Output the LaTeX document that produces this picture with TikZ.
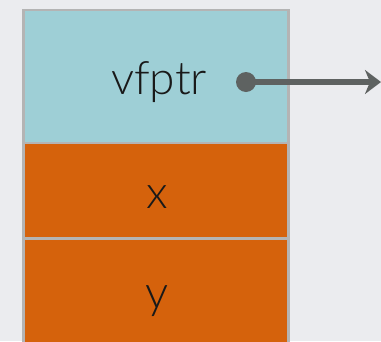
\documentclass[tikz,border=0pt]{standalone}
\usepackage{fontspec}
\setmainfont{Lato}[UprightFont=* Light]
\usetikzlibrary{arrows.meta}
\definecolor{bg}{HTML}{EBECEF}
\definecolor{cyancell}{HTML}{9ECFD6}
\definecolor{orangecell}{HTML}{D5620C}
\definecolor{edge}{HTML}{B4B4B4}
\definecolor{arrowc}{HTML}{5E6261}
\tikzset{
  cell/.style={draw=edge, line width=2.5pt},
  lbl/.style={anchor=base, inner sep=0pt, font=\fontsize{46}{50}\selectfont, text=black!90},
}
\begin{document}
\begin{tikzpicture}[x=1pt,y=-1pt]
\useasboundingbox (0,0) rectangle (381,341);
\clip (0,0) rectangle (381,341);
\fill[bg] (0,0) rectangle (381,341);
\fill[cyancell] (23.5,10) rectangle (288.5,143);
\fill[orangecell] (23.5,143) rectangle (288.5,350);
\draw[cell] (23.5,10) rectangle (288.5,350);
\draw[cell] (23.5,143) -- (288.5,143);
\draw[cell] (23.5,238.5) -- (288.5,238.5);
\node[lbl] (vf) at (159,94) {vfptr};
\node[lbl] (xv) at (157,208) {x};
\node[lbl] (yv) at (157,308) {y};
\coordinate (dot) at (246,82);
\coordinate (tip) at (381,82);
\fill[arrowc] (dot) circle (10);
\draw[arrowc, line width=5.5pt, -{Stealth[length=16pt,width=24pt,inset=5pt]}] (dot) -- (tip);
\end{tikzpicture}
\end{document}
